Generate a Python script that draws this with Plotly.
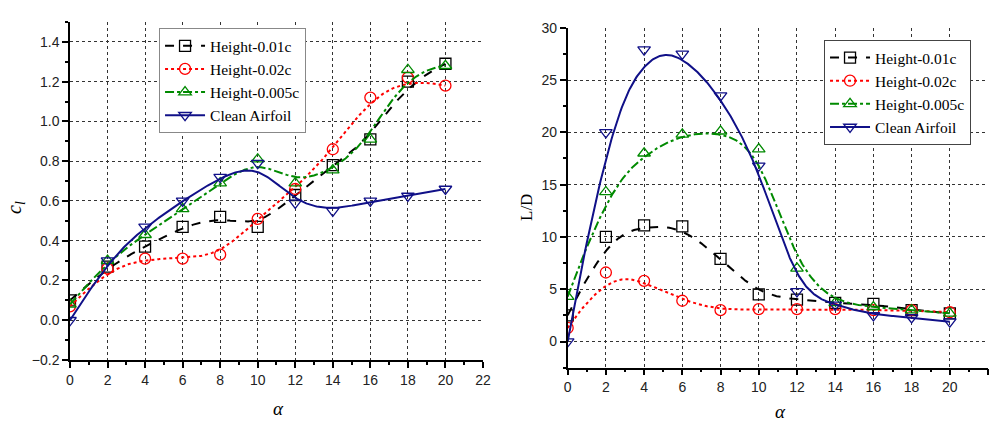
import numpy as np
import plotly.graph_objects as go

# Angle of attack (deg)
alpha = [0, 2, 4, 6, 8, 10, 12, 14, 16, 18, 20]

# Lift coefficient
cl_h001 = [0.10, 0.27, 0.37, 0.47, 0.52, 0.47, 0.63, 0.78, 0.91, 1.20, 1.29]
cl_h002 = [0.07, 0.26, 0.31, 0.31, 0.33, 0.51, 0.66, 0.86, 1.12, 1.22, 1.18]
cl_h0005 = [0.08, 0.30, 0.43, 0.56, 0.69, 0.81, 0.69, 0.755, 0.91, 1.26, 1.28]
cl_clean = [0.00, 0.30, 0.47, 0.60, 0.72, 0.79, 0.59, 0.55, 0.60, 0.625, 0.66]

# Lift-to-drag ratio
ld_h001 = [2.5, 10.0, 11.1, 11.0, 7.9, 4.5, 4.0, 3.7, 3.6, 3.0, 2.7]
ld_h002 = [1.3, 6.6, 5.8, 3.9, 3.0, 3.1, 3.1, 3.1, 3.0, 3.0, 2.8]
ld_h0005 = [4.3, 14.3, 18.0, 19.8, 20.1, 18.4, 7.0, 3.7, 3.3, 3.0, 2.7]
ld_clean = [0.0, 20.0, 27.9, 27.5, 23.5, 16.8, 4.8, 3.5, 2.5, 2.3, 1.9]

series_names = ["Height-0.01c", "Height-0.02c", "Height-0.005c", "Clean Airfoil"]
colors = ["#000000", "#ff0000", "#008a00", "#101088"]
dashes = ["dash", "dot", "dashdot", "solid"]
symbols = ["square-open", "circle-open", "triangle-up-open", "triangle-down-open"]

SERIF = "Liberation Serif"
SANS = "Liberation Sans"


def bspline(px, py, samples=400, k=3):
    """Clamped uniform cubic B-spline using the data points as control points."""
    px = np.asarray(px, float)
    py = np.asarray(py, float)
    n = len(px)
    knots = np.concatenate([np.zeros(k), np.linspace(0, 1, n - k + 1), np.ones(k)])
    t = np.linspace(0, 1, samples)
    t[-1] -= 1e-9
    m = len(knots) - 1
    N = np.zeros((samples, m))
    for i in range(m):
        N[:, i] = ((knots[i] <= t) & (t < knots[i + 1])).astype(float)
    for d in range(1, k + 1):
        Nn = np.zeros((samples, m - d))
        for i in range(m - d):
            a = knots[i + d] - knots[i]
            b = knots[i + d + 1] - knots[i + 1]
            left = (t - knots[i]) / a * N[:, i] if a > 0 else 0.0
            right = (knots[i + d + 1] - t) / b * N[:, i + 1] if b > 0 else 0.0
            Nn[:, i] = left + right
        N = Nn
    return N @ px, N @ py


fig = go.Figure()

panels = [
    ("x", "y", "legend", [cl_h001, cl_h002, cl_h0005, cl_clean]),
    ("x2", "y2", "legend2", [ld_h001, ld_h002, ld_h0005, ld_clean]),
]

for xa, ya, leg, data in panels:
    for name, vals, col, dash, sym in zip(series_names, data, colors, dashes, symbols):
        sx, sy = bspline(alpha, vals)
        line = dict(color=col, width=2, dash=dash)
        marker = dict(symbol=sym, size=11, color=col, line=dict(width=1.3, color=col))
        fig.add_trace(go.Scatter(x=sx, y=sy, mode="lines", line=line, xaxis=xa, yaxis=ya,
                                 showlegend=False, hoverinfo="skip"))
        fig.add_trace(go.Scatter(x=alpha, y=vals, mode="markers", marker=marker,
                                 xaxis=xa, yaxis=ya, showlegend=False, name=name))
        # legend entry showing both line style and marker
        fig.add_trace(go.Scatter(x=[None], y=[None], mode="lines+markers", line=line,
                                 marker=marker, name=name, xaxis=xa, yaxis=ya, legend=leg))

tick_font = dict(family=SANS, size=14, color="#222222")
common_axis = dict(
    showline=True, linecolor="#000000", linewidth=1.5,
    ticks="outside", ticklen=6, tickwidth=1.5, tickcolor="#000000",
    showgrid=True, gridcolor="#333333", griddash="dot", gridwidth=1,
    zeroline=False, tickfont=tick_font, automargin=False,
)
minor_x = dict(dtick=1, ticks="outside", ticklen=3, tickcolor="#000000", showgrid=False)

legend_font = dict(family=SERIF, size=15.5, color="#000000")

fig.update_layout(
    width=994, height=421,
    margin=dict(l=0, r=0, t=0, b=0, autoexpand=False),
    font=dict(family=SERIF),
    paper_bgcolor="white", plot_bgcolor="white",
    xaxis=dict(domain=[0.0704, 0.4859], range=[0, 22], dtick=2, tick0=0, anchor="y",
               minor=minor_x, **common_axis),
    yaxis=dict(domain=[0.1449, 0.9477], range=[-0.2, 1.5], dtick=0.2, tick0=0,
               tickformat=".1f", anchor="x",
               minor=dict(dtick=0.1, ticks="outside", ticklen=3, tickcolor="#000000", showgrid=False),
               **common_axis),
    xaxis2=dict(domain=[0.5711, 0.994], range=[0, 22], dtick=2, tick0=0, anchor="y2",
                minor=minor_x, **common_axis),
    yaxis2=dict(domain=[0.1266, 0.9342], range=[-2.5, 30], dtick=5, tick0=0, anchor="x2",
                minor=dict(dtick=2.5, ticks="outside", ticklen=3, tickcolor="#000000", showgrid=False),
                **common_axis),
    legend=dict(x=0.160, y=0.933, xanchor="left", yanchor="top",
                bgcolor="white", bordercolor="#888888", borderwidth=1,
                font=legend_font, tracegroupgap=0, itemwidth=40),
    legend2=dict(x=0.829, y=0.905, xanchor="left", yanchor="top",
                 bgcolor="white", bordercolor="#444444", borderwidth=1,
                 font=legend_font, tracegroupgap=0, itemwidth=40),
)

title_font = dict(family=SERIF, size=19, color="#000000")
axis_titles = [
    ("<i>α</i>", 278, 408, 0, title_font, 16),
    ("<i>α</i>", 780, 411, 0, title_font, 16),
    ("<i>c<sub>l</sub></i>", 15, 208, -90, dict(family=SERIF, size=20, color="#000000"), None),
    ("L/D", 526, 208, -90, dict(family=SERIF, size=17, color="#000000"), None),
]
for txt, px, py, ang, fnt, h in axis_titles:
    fig.add_annotation(text=txt, x=px / 994, y=1 - py / 421, xref="paper", yref="paper",
                       xanchor="center", yanchor="middle", showarrow=False,
                       textangle=ang, font=fnt, height=h)

fig.write_html("out.html")
